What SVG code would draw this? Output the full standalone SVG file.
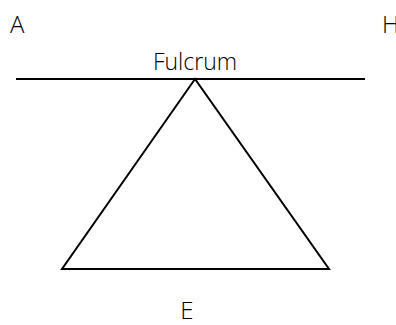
<svg xmlns="http://www.w3.org/2000/svg" width="396" height="325" viewBox="0 0 396 325">
<style>
text{font-family:"Open Sans","Noto Sans",sans-serif;font-weight:300;fill:#000;font-size:24px}
.ln{stroke:#000;stroke-width:2;fill:none}
</style>
<rect width="396" height="325" fill="#fff"/>
<g id="connectors">
<line class="ln" x1="16" y1="79" x2="365" y2="79"/>
</g>
<g id="triangle"><polygon class="ln" points="195,79 62,269 329,269"/></g>
<g id="A"><text x="10" y="33">A</text></g>
<g id="H"><text x="382" y="33">H</text></g>
<g id="Fulcrum"><text x="195" y="70" text-anchor="middle" style="font-size:23px">Fulcrum</text></g>
<g id="E"><text x="187" y="319" text-anchor="middle">E</text></g>
</svg>
